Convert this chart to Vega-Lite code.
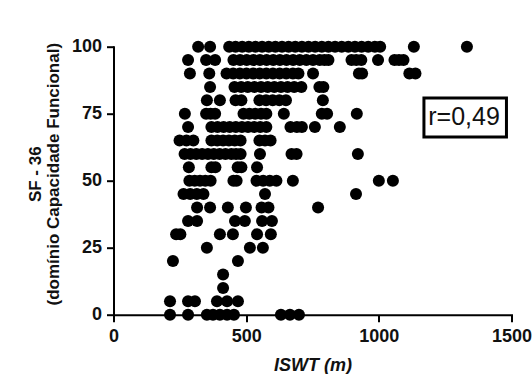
{
  "$schema": "https://vega.github.io/schema/vega-lite/v6.json",
  "width": 398,
  "height": 268,
  "autosize": {"type": "none"},
  "padding": {"left": 113.5, "top": 46.7, "right": 20.5, "bottom": 59.3},
  "background": "white",
  "config": {
    "view": {"stroke": null},
    "font": "Liberation Sans",
    "axis": {
      "grid": false,
      "domainColor": "black", "domainWidth": 2, "domainCap": "square",
      "tickColor": "black", "tickWidth": 2, "tickSize": 7,
      "labelFont": "Liberation Sans", "labelFontSize": 18, "labelFontWeight": "bold", "labelColor": "#111",
      "titleFont": "Liberation Sans", "titleFontSize": 17, "titleFontWeight": "bold", "titleColor": "#111"
    },
    "axisX": {"labelPadding": 6, "labelFlush": false, "titleFontStyle": "italic", "titleFontSize": 18, "titleY": 56, "titleBaseline": "alphabetic"},
    "axisY": {"labelPadding": 5, "titleX": -78, "titleY": 127, "titleBaseline": "middle", "titleAlign": "center", "titleLineHeight": 18}
  },
  "datasets": {
    "points": [
      {"iswt":319,"sf36":100},{"iswt":364,"sf36":100},{"iswt":436,"sf36":100},{"iswt":460,"sf36":100},{"iswt":485,"sf36":100},{"iswt":510,"sf36":100},{"iswt":535,"sf36":100},{"iswt":560,"sf36":100},{"iswt":585,"sf36":100},{"iswt":610,"sf36":100},{"iswt":635,"sf36":100},{"iswt":660,"sf36":100},{"iswt":685,"sf36":100},{"iswt":710,"sf36":100},{"iswt":735,"sf36":100},{"iswt":760,"sf36":100},{"iswt":785,"sf36":100},{"iswt":810,"sf36":100},{"iswt":835,"sf36":100},{"iswt":860,"sf36":100},{"iswt":885,"sf36":100},{"iswt":910,"sf36":100},{"iswt":935,"sf36":100},{"iswt":960,"sf36":100},{"iswt":985,"sf36":100},{"iswt":1005,"sf36":100},{"iswt":1132,"sf36":100},{"iswt":1332,"sf36":100},
      {"iswt":281,"sf36":95},{"iswt":349,"sf36":95},{"iswt":383,"sf36":95},{"iswt":452,"sf36":95},{"iswt":477,"sf36":95},{"iswt":502,"sf36":95},{"iswt":527,"sf36":95},{"iswt":552,"sf36":95},{"iswt":577,"sf36":95},{"iswt":602,"sf36":95},{"iswt":627,"sf36":95},{"iswt":652,"sf36":95},{"iswt":677,"sf36":95},{"iswt":702,"sf36":95},{"iswt":727,"sf36":95},{"iswt":752,"sf36":95},{"iswt":777,"sf36":95},{"iswt":795,"sf36":95},{"iswt":810,"sf36":95},{"iswt":897,"sf36":95},{"iswt":915,"sf36":95},{"iswt":934,"sf36":95},{"iswt":997,"sf36":95},{"iswt":1059,"sf36":95},{"iswt":1076,"sf36":95},{"iswt":1093,"sf36":95},
      {"iswt":288,"sf36":90},{"iswt":361,"sf36":90},{"iswt":426,"sf36":90},{"iswt":451,"sf36":90},{"iswt":476,"sf36":90},{"iswt":501,"sf36":90},{"iswt":526,"sf36":90},{"iswt":551,"sf36":90},{"iswt":576,"sf36":90},{"iswt":601,"sf36":90},{"iswt":626,"sf36":90},{"iswt":651,"sf36":90},{"iswt":676,"sf36":90},{"iswt":697,"sf36":90},{"iswt":752,"sf36":90},{"iswt":925,"sf36":90},{"iswt":937,"sf36":90},{"iswt":1115,"sf36":90},{"iswt":1138,"sf36":90},
      {"iswt":364,"sf36":85},{"iswt":456,"sf36":85},{"iswt":481,"sf36":85},{"iswt":506,"sf36":85},{"iswt":531,"sf36":85},{"iswt":556,"sf36":85},{"iswt":581,"sf36":85},{"iswt":606,"sf36":85},{"iswt":631,"sf36":85},{"iswt":656,"sf36":85},{"iswt":681,"sf36":85},{"iswt":708,"sf36":85},{"iswt":776,"sf36":85},{"iswt":791,"sf36":85},
      {"iswt":352,"sf36":80},{"iswt":401,"sf36":80},{"iswt":460,"sf36":80},{"iswt":482,"sf36":80},{"iswt":550,"sf36":80},{"iswt":575,"sf36":80},{"iswt":600,"sf36":80},{"iswt":625,"sf36":80},{"iswt":650,"sf36":80},{"iswt":789,"sf36":80},
      {"iswt":269,"sf36":75},{"iswt":349,"sf36":75},{"iswt":366,"sf36":75},{"iswt":383,"sf36":75},{"iswt":490,"sf36":75},{"iswt":512,"sf36":75},{"iswt":534,"sf36":75},{"iswt":556,"sf36":75},{"iswt":576,"sf36":75},{"iswt":642,"sf36":75},{"iswt":785,"sf36":75},{"iswt":805,"sf36":75},{"iswt":917,"sf36":75},
      {"iswt":281,"sf36":70},{"iswt":369,"sf36":70},{"iswt":392,"sf36":70},{"iswt":415,"sf36":70},{"iswt":438,"sf36":70},{"iswt":461,"sf36":70},{"iswt":484,"sf36":70},{"iswt":507,"sf36":70},{"iswt":530,"sf36":70},{"iswt":553,"sf36":70},{"iswt":576,"sf36":70},{"iswt":667,"sf36":70},{"iswt":691,"sf36":70},{"iswt":710,"sf36":70},{"iswt":759,"sf36":70},{"iswt":853,"sf36":70},
      {"iswt":249,"sf36":65},{"iswt":275,"sf36":65},{"iswt":301,"sf36":65},{"iswt":369,"sf36":65},{"iswt":391,"sf36":65},{"iswt":413,"sf36":65},{"iswt":435,"sf36":65},{"iswt":457,"sf36":65},{"iswt":479,"sf36":65},{"iswt":550,"sf36":65},{"iswt":571,"sf36":65},{"iswt":592,"sf36":65},
      {"iswt":268,"sf36":60},{"iswt":290,"sf36":60},{"iswt":312,"sf36":60},{"iswt":334,"sf36":60},{"iswt":356,"sf36":60},{"iswt":378,"sf36":60},{"iswt":400,"sf36":60},{"iswt":422,"sf36":60},{"iswt":444,"sf36":60},{"iswt":462,"sf36":60},{"iswt":479,"sf36":60},{"iswt":552,"sf36":60},{"iswt":671,"sf36":60},{"iswt":690,"sf36":60},{"iswt":921,"sf36":60},
      {"iswt":284,"sf36":55},{"iswt":369,"sf36":55},{"iswt":384,"sf36":55},{"iswt":468,"sf36":55},{"iswt":482,"sf36":55},{"iswt":541,"sf36":55},
      {"iswt":286,"sf36":50},{"iswt":306,"sf36":50},{"iswt":326,"sf36":50},{"iswt":346,"sf36":50},{"iswt":366,"sf36":50},{"iswt":452,"sf36":50},{"iswt":464,"sf36":50},{"iswt":539,"sf36":50},{"iswt":564,"sf36":50},{"iswt":589,"sf36":50},{"iswt":614,"sf36":50},{"iswt":676,"sf36":50},{"iswt":1000,"sf36":50},{"iswt":1053,"sf36":50},
      {"iswt":264,"sf36":45},{"iswt":289,"sf36":45},{"iswt":314,"sf36":45},{"iswt":339,"sf36":45},{"iswt":571,"sf36":45},{"iswt":914,"sf36":45},
      {"iswt":315,"sf36":40},{"iswt":364,"sf36":40},{"iswt":431,"sf36":40},{"iswt":499,"sf36":40},{"iswt":558,"sf36":40},{"iswt":584,"sf36":40},{"iswt":771,"sf36":40},
      {"iswt":281,"sf36":35},{"iswt":315,"sf36":35},{"iswt":458,"sf36":35},{"iswt":495,"sf36":35},{"iswt":560,"sf36":35},{"iswt":597,"sf36":35},
      {"iswt":236,"sf36":30},{"iswt":252,"sf36":30},{"iswt":401,"sf36":30},{"iswt":450,"sf36":30},{"iswt":541,"sf36":30},{"iswt":593,"sf36":30},
      {"iswt":352,"sf36":25},{"iswt":514,"sf36":25},{"iswt":563,"sf36":25},
      {"iswt":224,"sf36":20},{"iswt":469,"sf36":20},
      {"iswt":413,"sf36":15},
      {"iswt":413,"sf36":10},
      {"iswt":213,"sf36":5},{"iswt":281,"sf36":5},{"iswt":307,"sf36":5},{"iswt":390,"sf36":5},{"iswt":428,"sf36":5},{"iswt":469,"sf36":5},
      {"iswt":213,"sf36":0},{"iswt":281,"sf36":0},{"iswt":352,"sf36":0},{"iswt":375,"sf36":0},{"iswt":401,"sf36":0},{"iswt":428,"sf36":0},{"iswt":454,"sf36":0},{"iswt":631,"sf36":0},{"iswt":665,"sf36":0},{"iswt":699,"sf36":0}
    ],
    "annot": [
      {"label": "r=0,49", "iswt": 1170, "iswt_end": 1481, "sf36": 66.3, "sf36_end": 80.9, "text_iswt": 1321, "text_sf36": 73.8}
    ]
  },
  "layer": [
    {
      "data": {"name": "points"},
      "mark": {"type": "circle", "size": 145, "color": "black", "opacity": 1},
      "encoding": {
        "x": {
          "field": "iswt", "type": "quantitative", "title": "ISWT (m)",
          "scale": {"domain": [0, 1500], "nice": false, "zero": false},
          "axis": {"values": [0, 500, 1000, 1500], "format": "d"}
        },
        "y": {
          "field": "sf36", "type": "quantitative", "title": ["SF - 36", "(domínio Capacidade Funcional)"],
          "scale": {"domain": [0, 100], "nice": false},
          "axis": {"values": [0, 25, 50, 75, 100], "format": "d"}
        }
      }
    },
    {
      "data": {"name": "annot"},
      "mark": {"type": "rect", "fill": "white", "stroke": "black", "strokeWidth": 3},
      "encoding": {
        "x": {"field": "iswt", "type": "quantitative", "title": "ISWT (m)"},
        "x2": {"field": "iswt_end", "title": "ISWT (m)"},
        "y": {"field": "sf36", "type": "quantitative", "title": ["SF - 36", "(domínio Capacidade Funcional)"]},
        "y2": {"field": "sf36_end", "title": ["SF - 36", "(domínio Capacidade Funcional)"]}
      }
    },
    {
      "data": {"name": "annot"},
      "mark": {"type": "text", "font": "Liberation Sans", "fontSize": 25, "color": "#111", "align": "center", "baseline": "middle"},
      "encoding": {
        "x": {"field": "text_iswt", "type": "quantitative", "title": "ISWT (m)"},
        "y": {"field": "text_sf36", "type": "quantitative", "title": ["SF - 36", "(domínio Capacidade Funcional)"]},
        "text": {"field": "label"}
      }
    }
  ]
}
